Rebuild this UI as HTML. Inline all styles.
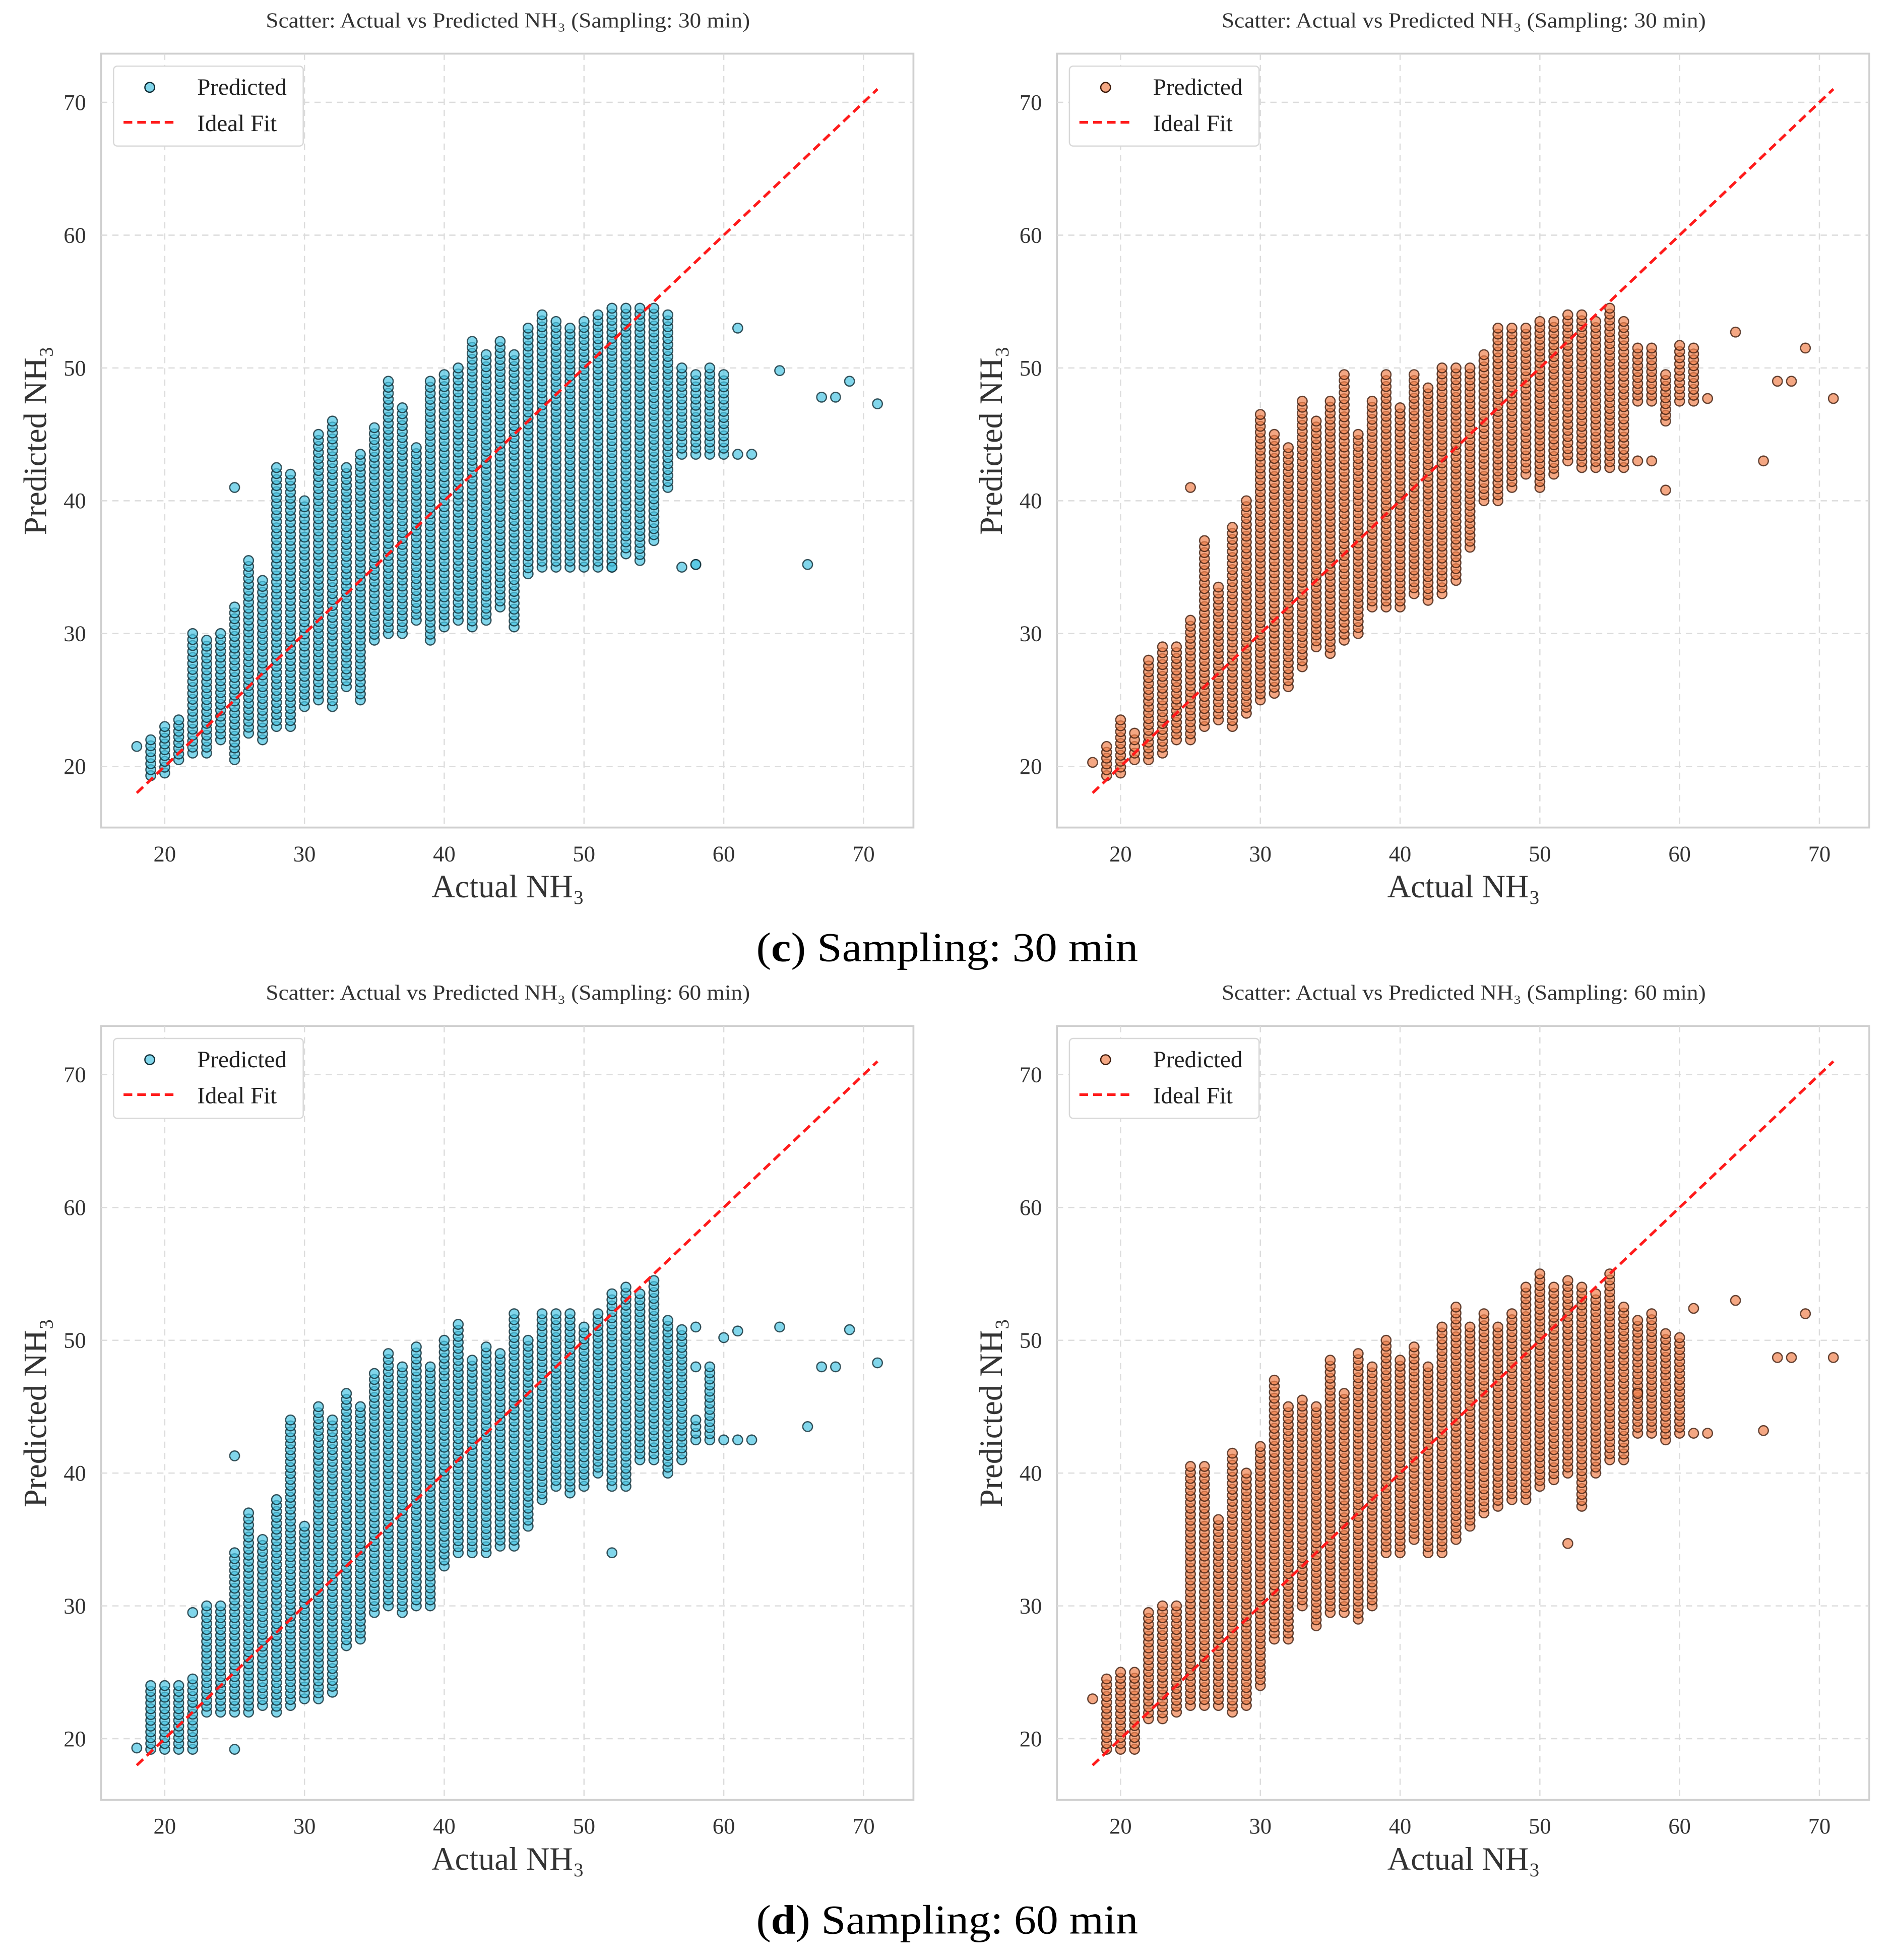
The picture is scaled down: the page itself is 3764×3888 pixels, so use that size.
<!DOCTYPE html>
<html><head><meta charset="utf-8">
<style>
html,body{margin:0;padding:0;background:#fff;}
svg{display:block;font-family:"Liberation Serif",serif;}
</style></head>
<body>
<svg id="fig" width="3764" height="3888" viewBox="0 0 1520.2 1570.3" preserveAspectRatio="none" xmlns="http://www.w3.org/2000/svg">
<rect width="1520.2" height="1570.3" fill="#fff"/>
<text x="759" y="770" font-size="33" text-anchor="middle" fill="#000" textLength="306" lengthAdjust="spacingAndGlyphs">(<tspan font-weight="bold">c</tspan>) Sampling: 30 min</text>
<text x="759" y="1549" font-size="33" text-anchor="middle" fill="#000" textLength="306" lengthAdjust="spacingAndGlyphs">(<tspan font-weight="bold">d</tspan>) Sampling: 60 min</text>
</svg>
<script>
// Panel c-left (blue, 30 min)
const colX1 =  [18,19,20,21,22,23,24,25,26,27,28,29,30,31,32,33,34,35,36,37,38,39,40,41,42,43,44,45,46,47,48,49,50,51,52,53,54,55,56,57,58,59,60,61,62,64,66,67,68,69,71];
const colLo1 = [21.5,19.3,19.5,20.5,21,21,22,20.5,22.5,22,23,23,24.5,25,24.5,26,25,29.5,30,30,31,29.5,30.5,31,30.5,31,32,30.5,34.5,35,35,35,35,35,35,36,35.5,37,41,43.5,43.5,43.5,43.5,43.5,43.5,49.8,35.2,47.8,47.8,49,47.3];
const colHi1 = [21.5,22,23,23.5,30,29.5,30,32,35.5,34,42.5,42,40,45,46,42.5,43.5,45.5,49,47,44,49,49.5,50,52,51,52,51,53,54,53.5,53,53.5,54,54.5,54.5,54.5,54.5,54,50,49.5,50,49.5,43.5,43.5,49.8,35.2,47.8,47.8,49,47.3];
const outX1 = [25,57,58,61,58,52];
const outY1 = [41,35,35.2,53,35.2,35];
// Panel c-right (orange, 30 min)
const colX2 =  [18,19,20,21,22,23,24,25,26,27,28,29,30,31,32,33,34,35,36,37,38,39,40,41,42,43,44,45,46,47,48,49,50,51,52,53,54,55,56,57,58,59,60,61,62,64,66,67,68,69,71];
const colLo2 = [20.3,19.3,19.5,20.5,20.5,21,22,22,23,23.5,23,24,25,25.5,26,27.5,29,28.5,29.5,30,32,32,32,33,32.5,33,34,36.5,40,40,41,42,41,42,43,42.5,42.5,42.5,42.5,47.5,47.5,46,47.5,47.5,47.7,52.7,43,49,49,51.5,47.7];
const colHi2 = [20.3,21.5,23.5,22.5,28,29,29,31,37,33.5,38,40,46.5,45,44,47.5,46,47.5,49.5,45,47.5,49.5,47,49.5,48.5,50,50,50,51,53,53,53,53.5,53.5,54,54,53.5,54.5,53.5,51.5,51.5,49.5,51.7,51.5,47.7,52.7,43,49,49,51.5,47.7];
const outX2 = [25,57,58,59];
const outY2 = [41,43,43,40.8];
// Panel d-left (blue, 60 min)
const colX3 =  [18,19,20,21,22,23,24,25,26,27,28,29,30,31,32,33,34,35,36,37,38,39,40,41,42,43,44,45,46,47,48,49,50,51,52,53,54,55,56,57,58,59,60,61,62,64,66,67,68,69,71];
const colLo3 = [19.3,19.2,19.2,19.2,19.2,22,22,22,22,22.5,22,22.5,23,23,23.5,27,27.5,29.5,30,29.5,30,30,33,34,34,34,34.5,34.5,36,38,39,38.5,39,40,39,39,41,41,40,41,42.5,42.5,42.5,42.5,42.5,51,43.5,48,48,50.8,48.3];
const colHi3 = [19.3,24,24,24,24.5,30,30,34,37,35,38,44,36,45,44,46,45,47.5,49,48,49.5,48,50,51.2,48.5,49.5,49,52,50,52,52,52,51,52,53.5,54,53.5,54.5,51.5,50.8,44,48,42.5,42.5,42.5,51,43.5,48,48,50.8,48.3];
const outX3 = [22,25,25,52,58,58,60,61];
const outY3 = [29.5,41.3,19.2,34,48,51,50.2,50.7];
// Panel d-right (orange, 60 min)
const colX4 =  [18,19,20,21,22,23,24,25,26,27,28,29,30,31,32,33,34,35,36,37,38,39,40,41,42,43,44,45,46,47,48,49,50,51,52,53,54,55,56,57,58,59,60,61,62,64,66,67,68,69,71];
const colLo4 = [23,19.2,19.2,19.2,21.5,21.5,22,22.5,22.5,22.5,22,22.5,24,27.5,27.5,30,28.5,29.5,29.5,29,30,34,34,35,34,34,35,36,37,37.5,38,38,39,39.5,40,37.5,40,41,41,43,43,42.5,43,43,43,53,43.2,48.7,48.7,52,48.7];
const colHi4 = [23,24.5,25,25,29.5,30,30,40.5,40.5,36.5,41.5,40,42,47,45,45.5,45,48.5,46,49,48,50,48.5,49.5,48,51,52.5,51,52,51,52,54,55,54,54.5,54,53.5,55,52.5,51.5,52,50.5,50.2,43,43,53,43.2,48.7,48.7,52,48.7];
const outX4 = [52,61,57];
const outY4 = [34.7,52.4,46];

const xTicks = [20,30,40,50,60,70];
const yTicks = [20,30,40,50,60,70];
const NS = "http://www.w3.org/2000/svg";
const svg = document.getElementById('fig');

function mk(tag, attrs, parent){
  const e = document.createElementNS(NS, tag);
  for (const k in attrs) e.setAttribute(k, attrs[k]);
  (parent||svg).appendChild(e);
  return e;
}

function drawPanel(x0, y0, title, colX, colLo, colHi, outX, outY, fill, edge, id){
  const g = mk('g', {});
  
  
  const W = 651, H = 620;
  const sx = v => x0 + 51 + (v - 20) * 11.2;
  const sy = v => y0 + 571 - (v - 20) * 10.64;
  const t = mk('text', {x: x0 + 326, y: y0 - 21, 'font-size': 17, 'text-anchor': 'middle', fill: '#333', textLength: 388, lengthAdjust: 'spacingAndGlyphs'}, g);
  t.textContent = title;
  
  
  const bg = mk('rect', {x: x0, y: y0, width: W, height: H, fill: '#fff', stroke: '#cfcfcf', 'stroke-width': 1.5}, g);
  
  
  xTicks.forEach(v => {
    const l = mk('line', {x1: sx(v), x2: sx(v), y1: y0, y2: y0 + H, stroke: '#dcdcdc', 'stroke-dasharray': '5,4', 'stroke-width': 1}, g);
    
    
    const tx = mk('text', {x: sx(v), y: y0 + 647, 'font-size': 18, 'text-anchor': 'middle', fill: '#333'}, g);
    tx.textContent = v;
    
    
  });
  yTicks.forEach(v => {
    const l = mk('line', {x1: x0, x2: x0 + W, y1: sy(v), y2: sy(v), stroke: '#dcdcdc', 'stroke-dasharray': '5,4', 'stroke-width': 1}, g);
    
    
    const ty = mk('text', {x: x0 - 12, y: sy(v) + 6, 'font-size': 18, 'text-anchor': 'end', fill: '#333'}, g);
    ty.textContent = v;
    
    
  });
  const pts = mk('g', {}, g);
  
  
  const dot = (vx, vy) => {
    const c = mk('circle', {cx: sx(vx), cy: sy(vy), r: 3.9, fill: fill, 'fill-opacity': 0.7, stroke: edge, 'stroke-opacity': 0.8, 'stroke-width': 1}, pts);
    
    
  };
  colX.forEach((vx, i) => {
    const lo = colLo[i], hi = colHi[i];
    if (hi - lo < 0.01) { dot(vx, lo); return; }
    const n = Math.max(1, Math.round((hi - lo) / 0.45));
    for (let k = 0; k <= n; k++) dot(vx, lo + (hi - lo) * k / n);
  });
  outX.forEach((vx, i) => dot(vx, outY[i]));
  const ideal = mk('line', {x1: sx(18), y1: sy(18), x2: sx(71), y2: sy(71), stroke: '#ff1a1a', 'stroke-width': 2.2, 'stroke-dasharray': '7,4'}, g);
  
  
  // legend
  const lg = mk('g', {}, g);
  
  
  mk('rect', {x: x0 + 10, y: y0 + 10, width: 152, height: 64, rx: 3, fill: '#fff', stroke: '#d8d8d8', 'stroke-width': 1}, lg);
  const lm = mk('circle', {cx: x0 + 39, cy: y0 + 27, r: 3.9, fill: fill, 'fill-opacity': 0.7, stroke: edge, 'stroke-width': 1}, lg);
  
  
  const lt1 = mk('text', {x: x0 + 77, y: y0 + 33, 'font-size': 19, fill: '#222'}, lg);
  lt1.textContent = 'Predicted';
  
  
  const ll = mk('line', {x1: x0 + 18, x2: x0 + 59, y1: y0 + 55, y2: y0 + 55, stroke: '#ff1a1a', 'stroke-width': 2.2, 'stroke-dasharray': '7,4'}, lg);
  
  
  const lt2 = mk('text', {x: x0 + 77, y: y0 + 62, 'font-size': 19, fill: '#222'}, lg);
  lt2.textContent = 'Ideal Fit';
  
  
  const xl = mk('text', {x: x0 + 326, y: y0 + 676, 'font-size': 26, 'text-anchor': 'middle', fill: '#333'}, g);
  xl.textContent = 'Actual NH₃';
  
  
  const yl = mk('text', {x: 0, y: 0, 'font-size': 26, 'text-anchor': 'middle', fill: '#333', transform: 'translate(' + (x0 - 44) + ',' + (y0 + 310) + ') rotate(-90)'}, g);
  yl.textContent = 'Predicted NH₃';
  
  
}

const BLUE = '#4cc4e2', BEDGE = '#0e2a33', ORG = '#f0824f', OEDGE = '#3d1b0c';
drawPanel(81, 43, 'Scatter: Actual vs Predicted NH₃ (Sampling: 30 min)', colX1, colLo1, colHi1, outX1, outY1, BLUE, BEDGE, 'c-left');
drawPanel(847, 43, 'Scatter: Actual vs Predicted NH₃ (Sampling: 30 min)', colX2, colLo2, colHi2, outX2, outY2, ORG, OEDGE, 'c-right');
drawPanel(81, 822, 'Scatter: Actual vs Predicted NH₃ (Sampling: 60 min)', colX3, colLo3, colHi3, outX3, outY3, BLUE, BEDGE, 'd-left');
drawPanel(847, 822, 'Scatter: Actual vs Predicted NH₃ (Sampling: 60 min)', colX4, colLo4, colHi4, outX4, outY4, ORG, OEDGE, 'd-right');
</script>
</body></html>
